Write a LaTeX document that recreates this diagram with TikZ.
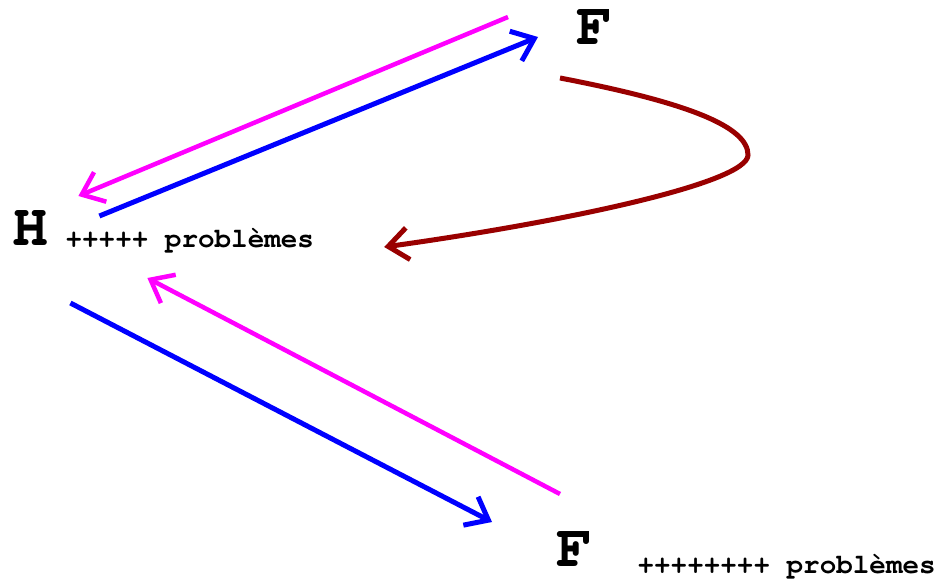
\documentclass[tikz,border=0pt]{standalone}
\usepackage[T1]{fontenc}
\usepackage{courier}
\usepackage{tikz}
\usetikzlibrary{arrows.meta, calc}

\definecolor{rose}{RGB}{255,0,255}
\definecolor{bleu}{RGB}{0,0,255}
\definecolor{bordeaux}{RGB}{153,0,0}

\begin{document}
\begin{tikzpicture}[
  x=1pt, y=-1pt,
  lettre/.style={inner sep=0pt, anchor=base west,
                 font=\ttfamily\bfseries\fontsize{60}{60}\selectfont},
  etiquette/.style={inner sep=0pt, anchor=base west,
                 font=\ttfamily\bfseries\fontsize{27.6}{30}\selectfont},
  fl/.style={-{Straight Barb[length=20pt, width=32pt]}, line width=5pt},
  aller/.style={fl, bleu},
  retour/.style={fl, rose, line width=4.5pt},
  boucle/.style={fl, bordeaux}
]
\useasboundingbox (0,0) rectangle (945,586);

% ---- Les trois etats ----
\node[lettre] (H) at (12,245) {H};
\node[etiquette] (pbH) at ($(H.base east)+(17,2)$) {+++++ probl\`emes};
\node[lettre] (Fh) at (576,45) {F};
\node[lettre] (Fb) at (556,566) {F};
\node[etiquette] (pbF) at ($(Fb.base east)+(45,7)$) {++++++++ probl\`emes};

% ---- Echanges du haut ----
\draw[retour] ($(Fh.base west)+(-68,-28)$) -- ($(H.base east)+(30,-49)$);
\draw[aller] ($(H.base east)+(51,-29)$) -- ($(Fh.base west)+(-38,-8)$);
\draw[boucle] ($(Fh.base west)+(-16,33)$) .. controls +(130,25) and +(0,-28) .. ($(Fh.base west)+(172,110)$)
  .. controls +(0,28) and +(180,-25) .. ($(pbH.base east)+(70,0)$);

% ---- Echanges du bas ----
\draw[retour] ($(Fb.base west)+(4,-72)$) -- ($(H.base east)+(99,33)$);
\draw[aller] ($(H.base east)+(22,58)$) -- ($(Fb.base west)+(-64,-44)$);
\end{tikzpicture}
\end{document}
